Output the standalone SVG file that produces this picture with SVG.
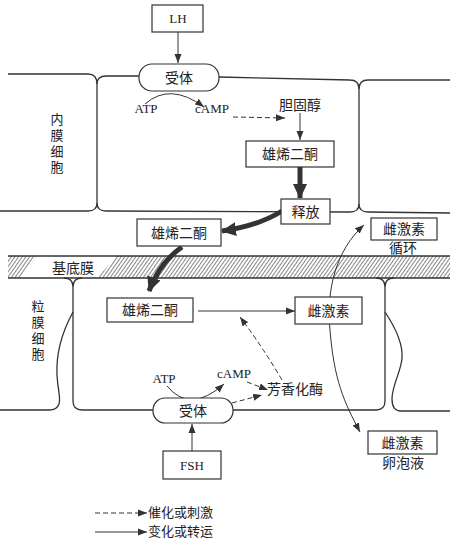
<svg xmlns="http://www.w3.org/2000/svg" width="450" height="541" viewBox="0 0 450 541">
<style>
.mem{fill:none;stroke:#333;stroke-width:1.3}
.box{fill:#fff;stroke:#333;stroke-width:1.2}
.cn{font-family:"Noto Sans CJK SC","Noto Sans",sans-serif;font-size:14px;fill:#222;text-anchor:middle}
.lg{font-family:"Noto Sans CJK SC","Noto Sans",sans-serif;font-size:13px;fill:#222;text-anchor:start}
.vt{font-family:"Noto Sans CJK SC","Noto Sans",sans-serif;font-size:13px;fill:#222;text-anchor:start;writing-mode:vertical-rl;letter-spacing:3px}
.lt{font-family:"Liberation Serif",serif;font-size:13px;fill:#222;text-anchor:middle}
.ln{fill:none;stroke:#333;stroke-width:1}
.dash{fill:none;stroke:#333;stroke-width:1;stroke-dasharray:5 3}
.thick{fill:none;stroke:#333;stroke-width:5}
</style>
<defs>
<marker id="ah" markerUnits="userSpaceOnUse" markerWidth="10" markerHeight="8" refX="9" refY="4" orient="auto-start-reverse">
<path d="M0,0.5 L9,4 L0,7.5 z" fill="#333"/>
</marker>
<marker id="ahT" markerUnits="userSpaceOnUse" markerWidth="16" markerHeight="14" refX="14" refY="7" orient="auto">
<path d="M0,0 L15,7 L0,14 z" fill="#333"/>
</marker>
<pattern id="hatch" patternUnits="userSpaceOnUse" width="3" height="3" patternTransform="rotate(35)">
<line x1="0" y1="0" x2="0" y2="3" stroke="#333" stroke-width="1.2"/>
</pattern>
</defs>
<rect width="450" height="541" fill="#fff"/>

<g id="membranes">
<path class="mem" d="M8,74 L88,74 Q97,74 97,84"/>
<path class="mem" d="M139,76 L106,76 Q97,76 97,84 L97,203 Q97,211 106,211 L350,212 Q359,212 359,204 L359,89 Q359,80 350,80 L219,77"/>
<path class="mem" d="M97,203 Q97,211 88,211 L0,211"/>
<path class="mem" d="M450,80 L368,80 Q359,80 359,89"/>
<path class="mem" d="M359,204 Q359,212 368,212 L450,213"/>
<path class="mem" d="M64,278 Q73,278 73,287 M82,278 Q73,278 73,287 L73,401 Q73,410 82,410 L153,410"/>
<path class="mem" d="M233,410 L376,410 Q385,410 385,401 L385,287 M376,278 Q385,278 385,287 M394,278 Q385,278 385,287"/>
<path class="mem" d="M73,312 C61,334 56,354 57,375 C58,392 61,398 59,404 Q57,410 49,410 L0,410"/>
<path class="mem" d="M385,312 C397,330 403,345 402,358 C401,372 392,385 392,399 Q392,411 401,411 L450,411"/>
</g>

<g id="basement">
<polygon points="8,256 37,256 20,278 8,278" fill="url(#hatch)"/>
<polygon points="117,256 450,256 450,278 97,278" fill="url(#hatch)"/>
<path class="mem" d="M8,256 L450,256 M8,278 L450,278"/>
<text class="cn" x="73" y="273">基底膜</text>
</g>

<g id="labels">
<text class="vt" x="57" y="113">内膜细胞</text>
<text class="vt" x="38" y="300">粒膜细胞</text>
</g>

<g id="connectors">
<line class="ln" x1="178" y1="32" x2="178" y2="63" marker-end="url(#ah)"/>
<path class="ln" d="M145,104 Q170,82 204,107" marker-end="url(#ah)"/>
<path class="dash" d="M233,117 L285,118" marker-end="url(#ah)"/>
<line class="ln" x1="300" y1="113" x2="300" y2="140" stroke-width="2.2" marker-end="url(#ah)"/>
<line class="thick" x1="300" y1="167" x2="300" y2="198" stroke-width="4" marker-end="url(#ahT)"/>
<path class="thick" d="M282,211 Q258,226 222,231" marker-end="url(#ahT)"/>
<path class="thick" d="M182,247 Q160,262 149,291" marker-end="url(#ahT)"/>
<line class="ln" x1="198" y1="311" x2="295" y2="311" marker-end="url(#ah)"/>
<path class="ln" d="M364,225 C336,250 326,290 330,330 C334,380 344,402 360,432" marker-start="url(#ah)" marker-end="url(#ah)"/>
<path class="ln" d="M167,386 Q190,414 224,384" marker-end="url(#ah)"/>
<path class="dash" d="M247,382 L268,390" marker-end="url(#ah)"/>
<path class="dash" d="M232,403 L262,395" marker-end="url(#ah)"/>
<path class="dash" d="M282,380 Q262,346 240,317" marker-end="url(#ah)"/>
<line class="ln" x1="192" y1="451" x2="192" y2="424" marker-end="url(#ah)"/>
</g>

<g id="LH"><rect class="box" x="152" y="5" width="51" height="27"/><text class="lt" x="178" y="23">LH</text></g>
<g id="receptor-top"><rect class="box" x="139" y="64" width="80" height="27" rx="13"/><text class="cn" x="179" y="83">受体</text></g>
<g id="ATP-top"><text class="lt" x="146" y="113">ATP</text></g>
<g id="cAMP-top"><text class="lt" x="212" y="113">cAMP</text></g>
<g id="cholesterol"><text class="cn" x="300" y="110">胆固醇</text></g>
<g id="androstenedione-1"><rect class="box" x="246" y="141" width="88" height="26"/><text class="cn" x="290" y="159">雄烯二酮</text></g>
<g id="release"><rect class="box" x="281" y="199" width="49" height="25"/><text class="cn" x="305.5" y="217">释放</text></g>
<g id="androstenedione-2"><rect class="box" x="137" y="219" width="84" height="27"/><text class="cn" x="179" y="238">雄烯二酮</text></g>
<g id="estrogen-circ"><rect class="box" x="371" y="218" width="66" height="22"/><text class="cn" x="404" y="234">雌激素</text><text class="cn" x="403" y="253">循环</text></g>
<g id="androstenedione-3"><rect class="box" x="107" y="298" width="86" height="24"/><text class="cn" x="150" y="315">雄烯二酮</text></g>
<g id="estrogen"><rect class="box" x="295" y="297" width="67" height="27"/><text class="cn" x="328.5" y="316">雌激素</text></g>
<g id="ATP-bottom"><text class="lt" x="164" y="383">ATP</text></g>
<g id="cAMP-bottom"><text class="lt" x="234" y="378">cAMP</text></g>
<g id="aromatase"><text class="cn" x="295" y="394">芳香化酶</text></g>
<g id="receptor-bottom"><rect class="box" x="153" y="398" width="80" height="25" rx="12"/><text class="cn" x="193" y="416">受体</text></g>
<g id="FSH"><rect class="box" x="163" y="451" width="58" height="28"/><text class="lt" x="192" y="470">FSH</text></g>
<g id="estrogen-fluid"><rect class="box" x="368" y="431" width="69" height="23"/><text class="cn" x="402.5" y="448">雌激素</text><text class="cn" x="403" y="468">卵泡液</text></g>

<g id="legend">
<path class="dash" d="M95,513 L147,513" marker-end="url(#ah)"/>
<text class="lg" x="148" y="517">催化或刺激</text>
<line class="ln" x1="95" y1="532" x2="147" y2="532" marker-end="url(#ah)"/>
<text class="lg" x="148" y="536">变化或转运</text>
</g>
</svg>
